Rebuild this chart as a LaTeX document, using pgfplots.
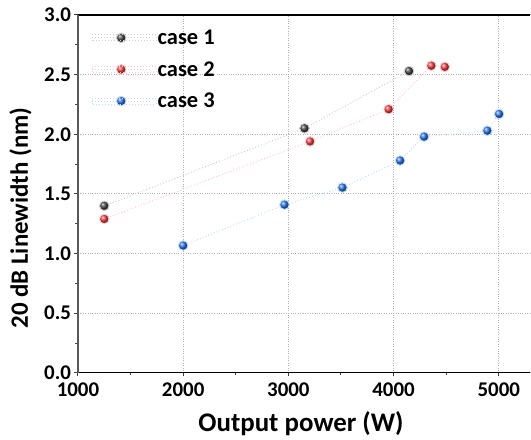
\documentclass[border=0pt]{standalone}
\usepackage{fontspec}
\setmainfont{Carlito}
\usepackage{pgfplots}
\pgfplotsset{compat=1.18}
\definecolor{cA}{HTML}{404040}
\definecolor{cB}{HTML}{E8383D}
\definecolor{cC}{HTML}{1F6FE0}
\begin{document}
\begin{tikzpicture}
\begin{axis}[
  scale only axis,
  width=452.6bp, height=358bp,
  xmin=1000, xmax=5300, ymin=0, ymax=3,
  axis x line=box, axis y line=left,
  axis line style={-, line width=1.3bp},
  x axis line style={black},
  y axis line style={black!65},
  tick pos=left,
  tick align=outside,
  major tick length=3.5bp, minor tick length=2.5bp,
  tick style={line width=1bp, black!75},
  xtick={1000,2000,3000,4000,5000},
  ytick={0,0.5,1,1.5,2,2.5,3},
  minor x tick num=1, minor y tick num=1,
  grid=major,
  major grid style={dotted, black!30, line width=1bp},
  /pgf/number format/assume math mode=true,
  ticklabel style={font=\fontsize{21}{24}\selectfont\bfseries},
  xticklabel style={/pgf/number format/set thousands separator={}, yshift=-2.5bp},
  yticklabel style={/pgf/number format/.cd, fixed, fixed zerofill, precision=1},
  every axis x label/.style={at={(axis description cs:0.493,0)}, yshift=-59bp, anchor=base},
  every axis y label/.style={at={(axis description cs:0,0.433)}, xshift=-50bp, rotate=90, anchor=base},
  xlabel={\fontsize{27}{30}\selectfont\bfseries Output power (W)},
  ylabel={\fontsize{25}{28}\selectfont\bfseries 20 dB Linewidth (nm)},
  legend style={draw=none, fill=none, at={(axis description cs:0.03,0.962)}, anchor=north west,
    font=\fontsize{22.5}{25}\selectfont\bfseries, row sep=13.5bp, inner sep=0bp,
    nodes={inner sep=1bp}},
  legend cell align=left,
  legend image code/.code={\draw[mark repeat=2, mark phase=2, #1] plot coordinates {(0bp,0bp) (29bp,0bp) (58bp,0bp)};
    \path (0bp,-3bp) rectangle (64bp,3bp);},
]
\addplot[color=cA!25, dash pattern=on 1bp off 2bp, line width=1bp, mark=ball, mark size=4.8bp, mark options={solid}, every mark/.append style={ball color=cA}] coordinates {
(1250,1.40) (3153,2.05) (4147,2.53)};
\addlegendentry{case 1}
\addplot[color=cB!25, dash pattern=on 1bp off 2bp, line width=1bp, mark=ball, mark size=4.8bp, mark options={solid}, every mark/.append style={ball color=cB}] coordinates {
(1250,1.29) (3206,1.94) (3953,2.21) (4359,2.575) (4487,2.565)};
\addlegendentry{case 2}
\addplot[color=cC!25, dash pattern=on 1bp off 2bp, line width=1bp, mark=ball, mark size=4.8bp, mark options={solid}, every mark/.append style={ball color=cC}] coordinates {
(2000,1.067) (2963,1.41) (3514,1.553) (4062,1.78) (4290,1.98) (4891,2.03) (5003,2.17)};
\addlegendentry{case 3}
\end{axis}
\path ([xshift=-78bp,yshift=-67bp]current axis.south west) rectangle ([yshift=15bp]current axis.north east);
\end{tikzpicture}
\end{document}
